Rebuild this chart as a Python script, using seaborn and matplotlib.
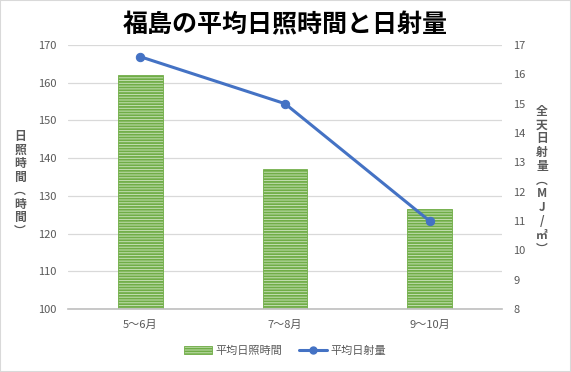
import matplotlib
matplotlib.use("Agg")
import matplotlib.pyplot as plt
import seaborn as sns
import pandas as pd
from matplotlib.patches import Patch, Rectangle
from matplotlib.lines import Line2D

categories = ["5〜6月", "7〜8月", "9〜10月"]
sunshine_hours = [162, 137, 126.5]
radiation = [16.6, 15.0, 11.0]
left_ticks = [100, 110, 120, 130, 140, 150, 160, 170]
right_ticks = [8, 9, 10, 11, 12, 13, 14, 15, 16, 17]

sns.set_theme(style="white")
plt.rcParams['font.family'] = ['Noto Sans CJK JP', 'DejaVu Sans']
plt.rcParams['hatch.linewidth'] = 1.3
plt.rcParams['hatch.color'] = '#70ad47'

df = pd.DataFrame({"cat": categories, "hours": sunshine_hours, "rad": radiation})

fig = plt.figure(figsize=(5.71, 3.72), dpi=100)
ax = fig.add_axes([68/571, 1-309/372, (502-68)/571, (309-45)/372])

sns.barplot(data=df, x="cat", y="hours", ax=ax, color="#c5e0b4", width=0.31,
            hatch="------", edgecolor="#70ad47", linewidth=0.6, saturation=1)
ax.set_ylim(100, 170)
ax.set_yticks(left_ticks)
ax.set_xlim(-0.5, 2.5)
ax.grid(axis='y', color='#d9d9d9', linewidth=0.9)
ax.set_axisbelow(True)
for s in ['top', 'left', 'right']:
    ax.spines[s].set_visible(False)
ax.spines['bottom'].set_color('#bfbfbf')
ax.spines['bottom'].set_linewidth(1.2)
ax.set_xlabel("")
ax.set_ylabel("")
ax.tick_params(axis='both', length=0, labelsize=8, labelcolor='#595959', pad=8)

ax2 = ax.twinx()
sns.lineplot(data=df, x="cat", y="rad", ax=ax2, color="#4472c4", linewidth=2.2,
             marker='o', markersize=6, markeredgecolor="#4472c4")
ax2.set_ylim(8, 17)
ax2.set_yticks(right_ticks)
for s in ax2.spines.values():
    s.set_visible(False)
ax2.set_ylabel("")
ax2.tick_params(axis='y', length=0, labelsize=8, labelcolor='#595959', pad=8)
ax2.grid(False)

fig.text(285/571, 1-25/372, "福島の平均日照時間と日射量", ha='center', va='center',
         fontsize=18, fontweight='bold', color='black')

fig.text(20/571, 1-184/372, "\n".join(["日", "照", "時", "間", "︵", "時", "間", "︶"]),
         ha='center', va='center', fontsize=8.5, fontweight='bold', color='#595959',
         linespacing=1.05)
fig.text(542/571, 1-180/372, "\n".join(["全", "天", "日", "射", "量", "︵", "M", "J", "/", "㎡", "︶"]),
         ha='center', va='center', fontsize=8.5, fontweight='bold', color='#595959',
         linespacing=1.08)

handles = [Patch(facecolor="#c5e0b4", hatch="------", edgecolor="#70ad47", linewidth=0.6),
           Line2D([0], [0], color="#4472c4", linewidth=2.2, marker='o', markersize=5)]
fig.legend(handles, ["平均日照時間", "平均日射量"], loc='center', bbox_to_anchor=(285/571, 1-351/372),
           ncol=2, frameon=False, fontsize=8, labelcolor='#595959', handlelength=2.5,
           columnspacing=1.5, handletextpad=0.3)

fig.add_artist(Rectangle((0, 0), 1, 1, transform=fig.transFigure, fill=False,
                         edgecolor='#d9d9d9', linewidth=1.5))

fig.savefig("out.png", dpi=100)
